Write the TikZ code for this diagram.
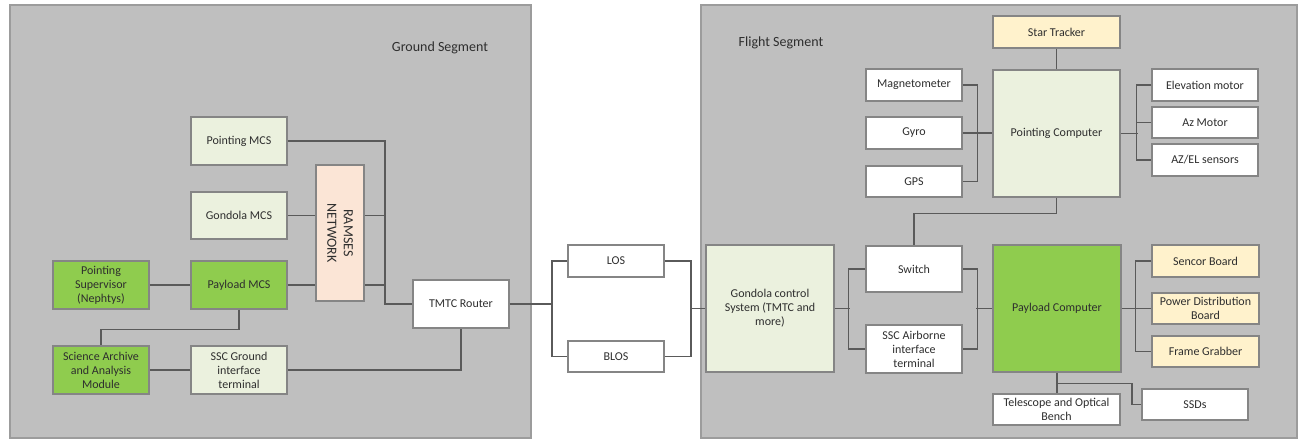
\documentclass[tikz,border=0pt]{standalone}
\usepackage{fontspec}
\setmainfont{Carlito}
\usetikzlibrary{calc}
\definecolor{panelgray}{HTML}{BFBFBF}
\definecolor{panelline}{HTML}{9C9C9C}
\definecolor{paleGreen}{HTML}{EBF1DE}
\definecolor{leafGreen}{HTML}{8FCC4E}
\definecolor{peach}{HTML}{FBE5D6}
\definecolor{cream}{HTML}{FFF2CC}
\definecolor{wire}{HTML}{5A5A5A}
\definecolor{edgeGray}{HTML}{858585}
\definecolor{ink}{HTML}{2E2E2E}
\tikzset{
  unit/.style={draw=edgeGray, line width=1.3pt, inner sep=1pt, align=center,
    text=ink, font=\fontsize{12}{14}\selectfont},
  whitebox/.style={unit, fill=white},
  palebox/.style={unit, fill=paleGreen},
  greenbox/.style={unit, fill=leafGreen},
  creambox/.style={unit, fill=cream},
  netbox/.style={unit, fill=peach},
  sz/.style 2 args={minimum width=#1pt, minimum height=#2pt},
  link/.style={draw=wire, line width=1.2pt},
  segment/.style={fill=panelgray, draw=panelline, line width=1.5pt},
  title/.style={text=ink, font=\fontsize{14}{16}\selectfont}
}
\begin{document}
\begin{tikzpicture}[x=1pt,y=-1pt]
\useasboundingbox (0,0) rectangle (1303,439);

% segment panels
\draw[segment] (10,5) rectangle (531,438);
\draw[segment] (701,5) rectangle (1297,438);
\node[title] (groundT) at (440,48) {Ground Segment};
\node[title] (flightT) at (781,43) {Flight Segment};

% ---- ground segment ----
\node[palebox, sz={96}{48}] (pmcs) at (239,141) {Pointing MCS};
\node[palebox, sz={96}{47}] (gmcs) at (239,215.5) {Gondola MCS};
\node[greenbox, sz={96}{48}] (plmcs) at (239,285) {Payload MCS};
\node[greenbox, sz={96}{48}] (sup) at (101,285) {Pointing\\Supervisor\\(Nephtys)};
\node[greenbox, sz={96}{48}] (saam) at (101,370) {Science Archive\\and Analysis\\Module};
\node[palebox, sz={96}{48}] (sscg) at (239,370) {SSC Ground\\interface\\terminal};
\node[netbox, sz={48}{136}] (ramses) at (340,233) {};
\node[text=ink, rotate=-90, align=center, font=\fontsize{14}{16.5}\selectfont] (ramsesT) at (ramses.center) {RAMSES\\NETWORK};
\node[whitebox, sz={96}{48}] (tmtc) at (461,304) {TMTC Router};

\coordinate (gbus) at (385,304);
\draw[link] (pmcs.east) -| (gbus) -- (tmtc.west);
\draw[link] (gmcs.east) -- (gmcs.east -| ramses.west);
\draw[link] (ramses.east |- gmcs.east) -- (gbus |- gmcs.east);
\draw[link] (plmcs.east) -- (plmcs.east -| ramses.west);
\draw[link] (ramses.east |- plmcs.east) -- (gbus |- plmcs.east);
\draw[link] (sup.east) -- (plmcs.west);
\draw[link] (plmcs.south) -- ++(0,20) -| (saam.north);
\draw[link] (saam.east) -- (sscg.west);
\draw[link] (sscg.east) -| (tmtc.south);

% ---- radio links ----
\node[whitebox, sz={96}{32}] (los) at (616,261) {LOS};
\node[whitebox, sz={96}{31}] (blos) at (616,356.5) {BLOS};
\node[palebox, sz={128}{127}] (gcs) at (770,308.5) {Gondola control\\System (TMTC and\\more)};
\coordinate (jl) at (552,304);
\coordinate (jr) at (691,308.5);
\draw[link] (tmtc.east) -- (jl);
\draw[link] (los.west) -| (jl) |- (blos.west);
\draw[link] (los.east) -| (jr) |- (blos.east);
\draw[link] (jr) -- (gcs.west);

% ---- flight segment ----
\node[whitebox, sz={96}{32}] (mag) at (914,85) {Magnetometer};
\node[whitebox, sz={96}{32}] (gyro) at (914,133) {Gyro};
\node[whitebox, sz={96}{31}] (gps) at (914,181.5) {GPS};
\node[palebox, sz={127}{127}] (pc) at (1056.5,133.5) {Pointing Computer};
\node[creambox, sz={127}{32}] (star) at (1056.5,32) {Star Tracker};
\node[whitebox, sz={106}{32}] (elev) at (1205,85) {Elevation motor};
\node[whitebox, sz={106}{31}] (az) at (1205,122.5) {Az Motor};
\node[whitebox, sz={106}{32}] (azel) at (1205,160) {AZ/EL sensors};

\node[whitebox, sz={96}{46}] (sw) at (914,269) {Switch};
\node[whitebox, sz={96}{48}] (ssca) at (914,349) {SSC Airborne\\interface\\terminal};
\node[greenbox, sz={128}{127}] (payc) at (1057,308.5) {Payload Computer};
\node[creambox, sz={107}{32}] (sens) at (1205.5,261) {Sencor Board};
\node[creambox, sz={107}{31}] (pdb) at (1205.5,308.5) {Power Distribution\\Board};
\node[creambox, sz={107}{31}] (fg) at (1205.5,351.5) {Frame Grabber};
\node[whitebox, sz={127}{31}] (tele) at (1056.5,409.5) {Telescope and Optical\\Bench};
\node[whitebox, sz={106}{31}] (ssd) at (1195,404.5) {SSDs};

\draw[link] (mag.east) -- ++(15,0) |- (gps.east);
\draw[link] (gyro.east) -- (gyro.east -| pc.west);
\draw[link] (star.south) -- (pc.north);
\draw[link] (elev.west) -- ++(-15,0) |- (azel.west);
\draw[link] (az.west) -- ++(-15,0);
\draw[link] (pc.east) -- ++(17,0);
\draw[link] (pc.south) -- ++(0,16) -| (sw.north);

\draw[link] (sw.west) -- ++(-17,0) |- (ssca.west);
\draw[link] (gcs.east) -- ++(15,0);
\draw[link] (sw.east) -- ++(15,0) |- (ssca.east);
\draw[link] (payc.west) -- ++(-16,0);
\draw[link] (sens.west) -- ++(-16,0) |- (fg.west);
\draw[link] (payc.east) -- (payc.east -| pdb.west);
\draw[link] (payc.south) -- (payc.south |- tele.north);
\coordinate (tb) at ($(payc.south)+(0,11)$);
\draw[link] (tb) -- ++(75,0) |- (ssd.west);
\end{tikzpicture}
\end{document}
